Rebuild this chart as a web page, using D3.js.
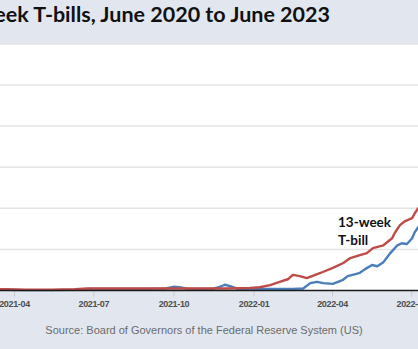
<!DOCTYPE html>
<html>
<head>
<meta charset="utf-8">
<script src="https://cdn.jsdelivr.net/npm/d3@7"></script>
<style>
  html, body { margin: 0; padding: 0; background: #e2e7ef; overflow: hidden; }
  svg { display: block; }
</style>
</head>
<body>
<svg id="chart" width="418" height="349"></svg>
<script>
// ---- data ----
const titleText = "Yields on 4-week and 13-week T-bills, June 2020 to June 2023";
const sourceText = "Source: Board of Governors of the Federal Reserve System (US)";
const tickLabels = ["2021-04", "2021-07", "2021-10", "2022-01", "2022-04", "2022-07"];
const yTicks = [0, 1, 2, 3, 4, 5, 6];
const seriesNames = ["4-week T-bill", "13-week T-bill"];
const labelLines = ["13-week", "T-bill"];

const dates13 = ["2021-03-01","2021-03-20","2021-04-15","2021-05-15","2021-06-10","2021-06-25","2021-08-01","2021-09-01","2021-10-01","2021-11-01","2021-12-01","2021-12-28","2022-01-08","2022-01-20","2022-01-31","2022-02-10","2022-02-15","2022-02-23","2022-03-03","2022-03-18","2022-04-02","2022-04-14","2022-04-22","2022-05-03","2022-05-11","2022-05-18","2022-05-30","2022-06-09","2022-06-12","2022-06-18","2022-06-24","2022-07-02","2022-07-05","2022-07-09","2022-07-16"];
const values13 = [0.04,0.03,0.02,0.02,0.03,0.05,0.05,0.05,0.05,0.05,0.05,0.06,0.08,0.13,0.21,0.28,0.38,0.35,0.30,0.42,0.55,0.67,0.79,0.86,0.91,1.03,1.10,1.27,1.40,1.59,1.69,1.76,1.88,2.00,2.15];

const dates4 = ["2021-03-01","2021-03-25","2021-04-15","2021-05-15","2021-06-10","2021-06-25","2021-08-01","2021-09-01","2021-09-22","2021-10-01","2021-10-08","2021-10-18","2021-11-15","2021-11-23","2021-11-29","2021-12-06","2021-12-14","2022-01-15","2022-02-15","2022-02-27","2022-03-07","2022-03-15","2022-03-22","2022-04-02","2022-04-13","2022-04-19","2022-04-28","2022-05-03","2022-05-09","2022-05-17","2022-05-23","2022-05-30","2022-06-07","2022-06-15","2022-06-20","2022-06-26","2022-07-02","2022-07-05","2022-07-09","2022-07-16"];
const values4 = [0.03,0.02,0.01,0.01,0.02,0.04,0.04,0.04,0.05,0.09,0.08,0.04,0.04,0.09,0.14,0.10,0.04,0.04,0.04,0.05,0.18,0.21,0.18,0.16,0.25,0.35,0.40,0.43,0.52,0.62,0.59,0.69,0.91,1.10,1.15,1.13,1.27,1.42,1.54,1.75];

// ---- layout ----
const W = 418, H = 349;
const plotTop = 44.5, plotBottom = 290.5;
const parse = d3.timeParse("%Y-%m-%d");
const parseTick = d3.timeParse("%Y-%m");

const svg = d3.select("#chart");

// scales: the view shows only a window of the full June 2020 - June 2023 chart
const x = d3.scaleTime()
  .domain([parse("2021-04-01"), parse("2022-04-01")])
  .range([14, 332]);
const y = d3.scaleLinear()
  .domain([0, 6])
  .range([plotBottom, plotBottom - 6 * 41.1]);

// backgrounds
svg.append("rect").attr("x", 0).attr("y", 0).attr("width", W).attr("height", H).attr("fill", "#e2e7ef");
svg.append("rect").attr("x", 0).attr("y", plotTop).attr("width", W).attr("height", plotBottom - plotTop).attr("fill", "#ffffff");

// gridlines
svg.append("g")
  .selectAll("line")
  .data(yTicks.filter(d => d > 0))
  .join("line")
  .attr("x1", 0).attr("x2", W)
  .attr("y1", d => y(d)).attr("y2", d => y(d))
  .attr("stroke", "#e4e4e4")
  .attr("stroke-width", 1.5);

// x axis
const tickDates = tickLabels.map(parseTick);
const xAxis = d3.axisBottom(x)
  .tickValues(tickDates)
  .tickFormat(d3.timeFormat("%Y-%m"))
  .tickSize(6)
  .tickPadding(4);
const gx = svg.append("g").attr("transform", `translate(0,${plotBottom})`).call(xAxis);
gx.select(".domain").remove();
gx.selectAll(".tick line").attr("stroke", "#c8c8c8").attr("stroke-width", 1);
gx.selectAll(".tick text")
  .attr("fill", "#4d4d4d")
  .attr("font-family", "'Liberation Sans', Arial, sans-serif")
  .attr("font-weight", "bold")
  .attr("font-size", "9px")
  .attr("letter-spacing", "-0.35px");

// lines
const line = d3.line()
  .x(d => x(d.date))
  .y(d => y(d.value));

const s4 = dates4.map((d, i) => ({ date: parse(d), value: values4[i] }));
const s13 = dates13.map((d, i) => ({ date: parse(d), value: values13[i] }));

svg.append("path").datum(s4)
  .attr("d", line)
  .attr("fill", "none")
  .attr("stroke", "#4a7ebb")
  .attr("stroke-width", 2.4)
  .attr("stroke-linejoin", "round");

svg.append("path").datum(s13)
  .attr("d", line)
  .attr("fill", "none")
  .attr("stroke", "#be4b48")
  .attr("stroke-width", 2.4)
  .attr("stroke-linejoin", "round");

// axis baseline
svg.append("line")
  .attr("x1", 0).attr("x2", W)
  .attr("y1", y(0)).attr("y2", y(0))
  .attr("stroke", "#1a1a1a")
  .attr("stroke-width", 1.6);

// series label
const lab = svg.append("text")
  .attr("font-family", "Lato, 'Open Sans', sans-serif")
  .attr("font-weight", "bold")
  .attr("font-size", "13.5px")
  .attr("fill", "#111");
lab.selectAll("tspan")
  .data(labelLines)
  .join("tspan")
  .attr("x", 338)
  .attr("y", (d, i) => 227 + i * 18)
  .text(d => d);

// title: fitted so the visible tail spans the same width as the reference
const titleFont = "Lato, 'Open Sans', sans-serif";
const probe = svg.append("text")
  .attr("font-family", titleFont).attr("font-weight", "bold").attr("font-size", "20px")
  .text("eek T-bills, June 2020 to June 2023");
const probeW = probe.node().getComputedTextLength();
probe.remove();
const titleSize = 20 * 336 / probeW;
svg.append("text")
  .attr("x", 330).attr("y", 22)
  .attr("text-anchor", "end")
  .attr("font-family", titleFont)
  .attr("font-weight", "bold")
  .attr("font-size", titleSize + "px")
  .attr("fill", "#111")
  .text(titleText);

// source
svg.append("text")
  .attr("x", 204).attr("y", 334)
  .attr("text-anchor", "middle")
  .attr("font-family", "'Liberation Sans', Arial, sans-serif")
  .attr("font-size", "11px")
  .attr("fill", "#6b6b6b")
  .text(sourceText);
</script>
</body>
</html>
